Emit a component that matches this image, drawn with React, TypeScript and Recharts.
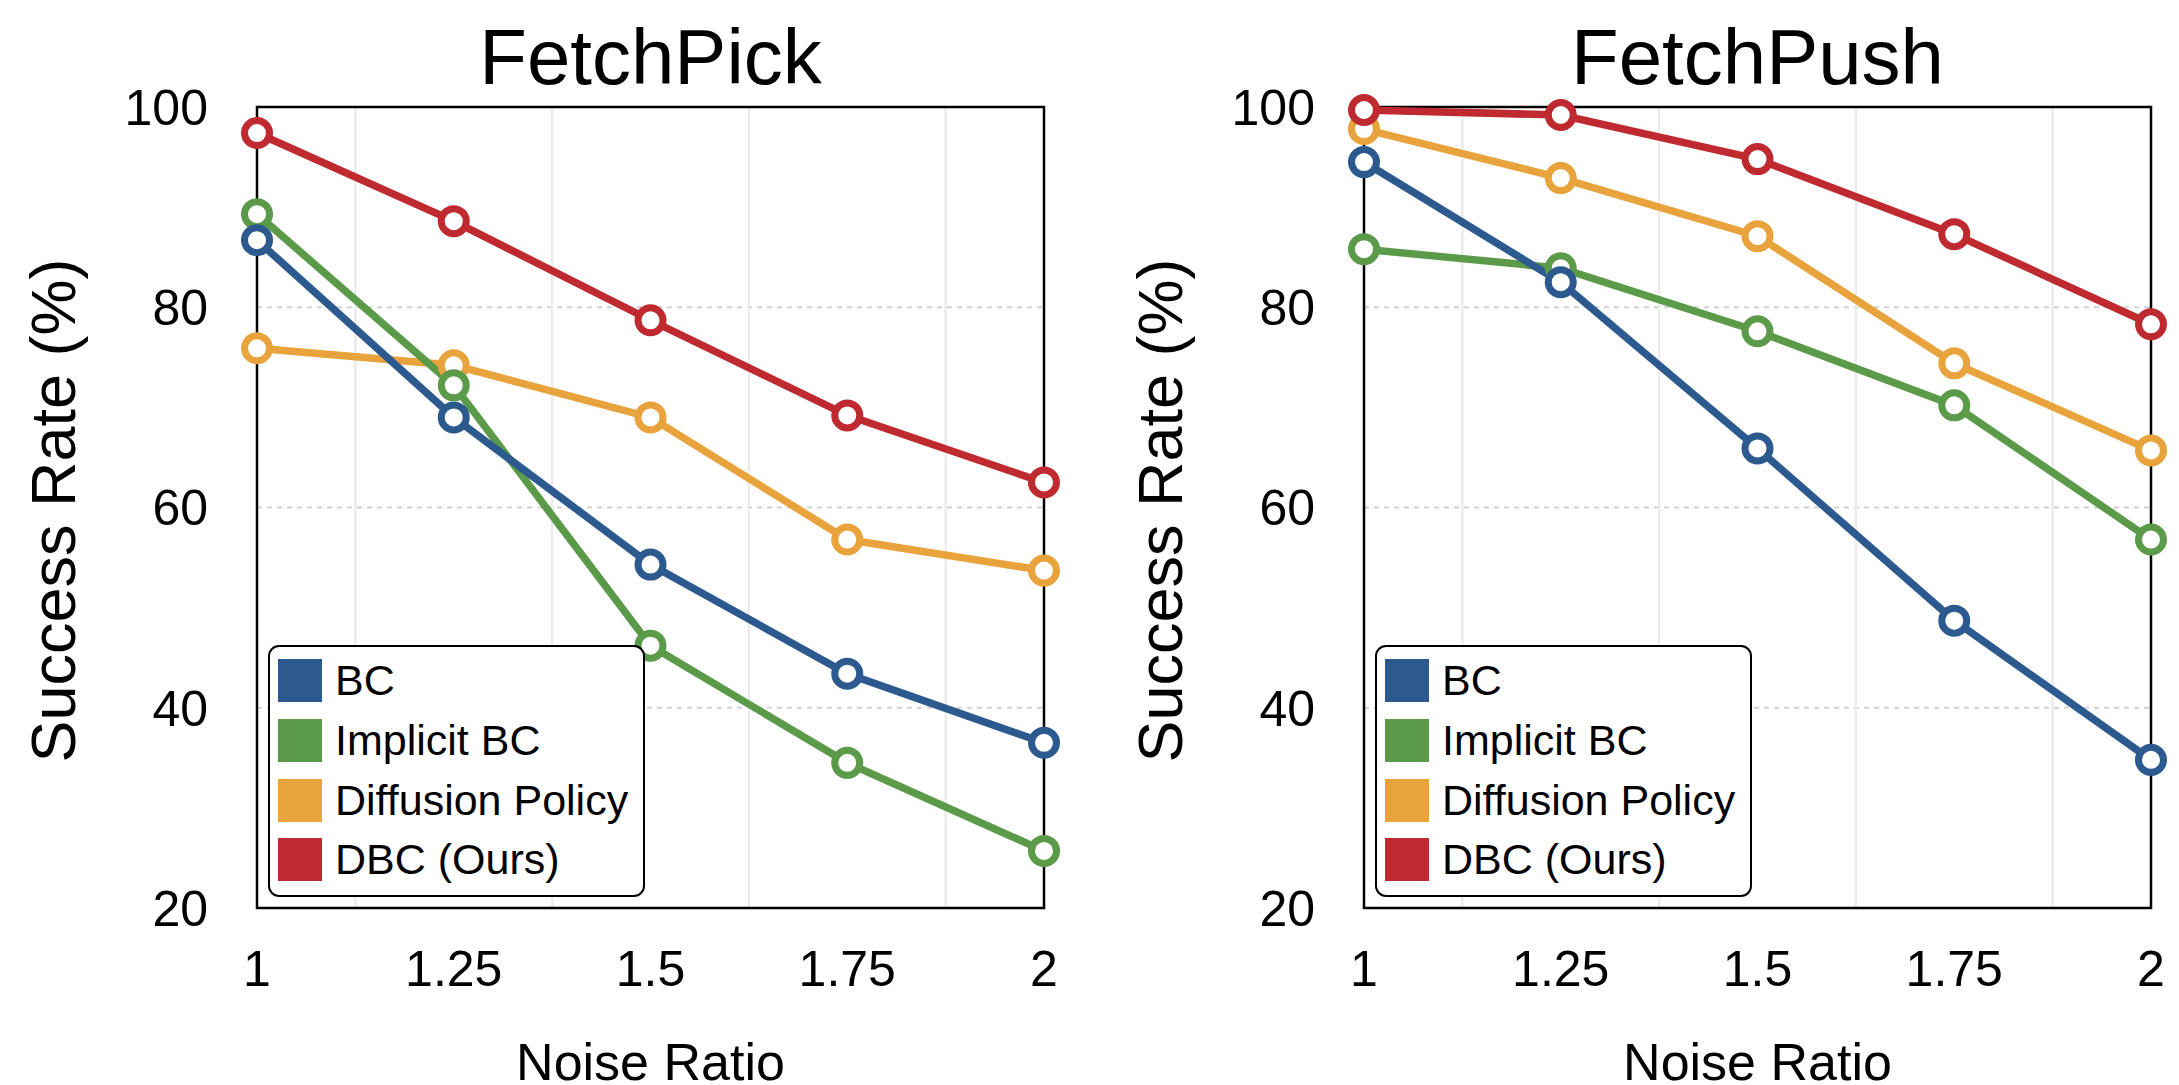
import React from "react";
import {
  CartesianGrid,
  Label,
  Legend,
  Line,
  LineChart,
  ReferenceArea,
  XAxis,
  YAxis,
} from "recharts";

const X_TICKS = [1, 1.25, 1.5, 1.75, 2];
const MINOR_X = [1.125, 1.375, 1.625, 1.875];
const Y_TICKS = [20, 40, 60, 80, 100];

// FetchPick
const pickBC = [86.7, 69.0, 54.3, 43.4, 36.5];
const pickIBC = [89.3, 72.2, 46.2, 34.5, 25.7];
const pickDP = [75.9, 74.2, 69.0, 56.8, 53.7];
const pickDBC = [97.4, 88.6, 78.7, 69.2, 62.5];

// FetchPush
const pushBC = [94.5, 82.5, 65.9, 48.7, 34.8];
const pushIBC = [85.8, 83.9, 77.6, 70.2, 56.8];
const pushDP = [97.8, 92.9, 87.1, 74.4, 65.7];
const pushDBC = [99.7, 99.2, 94.8, 87.3, 78.3];

// legend order
const SERIES = [
  { key: "bc", name: "BC", color: "#2c5a8e" },
  { key: "ibc", name: "Implicit BC", color: "#5b9a48" },
  { key: "dp", name: "Diffusion Policy", color: "#e9a33c" },
  { key: "dbc", name: "DBC (Ours)", color: "#be2a2f" },
];
// drawing order (later on top)
const DRAW_ORDER = ["dp", "ibc", "bc", "dbc"];

const FONT = '"Liberation Sans", Arial, Helvetica, sans-serif';

const buildRows = (bc: number[], ibc: number[], dp: number[], dbc: number[]) =>
  X_TICKS.map((x, i) => ({ x, bc: bc[i], ibc: ibc[i], dp: dp[i], dbc: dbc[i] }));

const pickData = buildRows(pickBC, pickIBC, pickDP, pickDBC);
const pushData = buildRows(pushBC, pushIBC, pushDP, pushDBC);

function LegendBox() {
  return (
    <div
      style={{
        width: 377,
        height: 252,
        boxSizing: "border-box",
        border: "2.5px solid #000",
        borderRadius: 11,
        background: "#fff",
        paddingTop: 4,
        paddingLeft: 8,
        fontFamily: FONT,
      }}
    >
      {SERIES.map((s) => (
        <div key={s.key} style={{ display: "flex", alignItems: "center", height: 59.7 }}>
          <div style={{ width: 44, height: 43, background: s.color }} />
          <span style={{ marginLeft: 13, fontSize: 43, color: "#000", lineHeight: "43px" }}>
            {s.name}
          </span>
        </div>
      ))}
    </div>
  );
}

function Panel({
  title,
  data,
  left,
  width,
  plotLeft,
  marginRight,
}: {
  title: string;
  data: Record<string, number>[];
  left: number;
  width: number;
  plotLeft: number;
  marginRight: number;
}) {
  const plotRight = width - marginRight;
  return (
    <div style={{ position: "absolute", left, top: 0, width, height: 1085 }}>
      <div
        style={{
          position: "absolute",
          top: 18,
          left: plotLeft,
          width: plotRight - plotLeft,
          textAlign: "center",
          fontSize: 78,
          lineHeight: "78px",
          color: "#000",
          fontFamily: FONT,
        }}
      >
        {title}
      </div>
      <LineChart
        width={width}
        height={1085}
        data={data}
        margin={{ top: 107, right: marginRight, bottom: 0, left: 0 }}
      >
        <CartesianGrid
          vertical={false}
          stroke="#d2d2d2"
          strokeWidth={1.8}
          strokeDasharray="5 5"
        />
        <CartesianGrid
          horizontal={false}
          stroke="#ececec"
          strokeWidth={2.5}
          verticalCoordinatesGenerator={({ xAxis }: any) =>
            MINOR_X.map((v) => {
              const s = xAxis.scale;
              return typeof s === "function" ? s(v) : s.map(v);
            })
          }
        />
        <XAxis
          dataKey="x"
          type="number"
          domain={[1, 2]}
          ticks={X_TICKS}
          axisLine={false}
          tickLine={false}
          tickSize={0}
          tickMargin={42.5}
          height={177}
          tick={{ fontSize: 50, fill: "#000" }}
        >
          <Label
            content={({ viewBox }: any) => (
              <text
                x={viewBox.x + viewBox.width / 2}
                y={viewBox.y + 172}
                textAnchor="middle"
                fontSize={52}
                fill="#000"
              >
                Noise Ratio
              </text>
            )}
          />
        </XAxis>
        <YAxis
          type="number"
          domain={[20, 100]}
          ticks={Y_TICKS}
          axisLine={false}
          tickLine={false}
          tickSize={0}
          tickMargin={49}
          width={plotLeft}
          tick={{ fontSize: 50, fill: "#000" }}
        >
          <Label
            content={({ viewBox }: any) => {
              const x = viewBox.x + viewBox.width - 182;
              const y = viewBox.y + viewBox.height / 2 + 3;
              return (
                <text
                  x={x}
                  y={y}
                  transform={`rotate(-90 ${x} ${y})`}
                  textAnchor="middle"
                  fontSize={63}
                  fill="#000"
                >
                  Success Rate (%)
                </text>
              );
            }}
          />
        </YAxis>
        <ReferenceArea
          x1={1}
          x2={2}
          y1={20}
          y2={100}
          fill="none"
          stroke="#000"
          strokeWidth={2.5}
        />
        {DRAW_ORDER.map((k) => {
          const s = SERIES.find((e) => e.key === k)!;
          return (
            <Line
              key={k}
              type="linear"
              dataKey={k}
              name={s.name}
              stroke={s.color}
              strokeWidth={7.5}
              dot={{ r: 12.5, fill: "#fff", stroke: s.color, strokeWidth: 7 }}
              isAnimationActive={false}
            />
          );
        })}
        <Legend
          layout="vertical"
          align="center"
          verticalAlign="middle"
          content={() => <LegendBox />}
          wrapperStyle={{ left: plotLeft + 11, top: 645, width: "auto", height: "auto" }}
        />
      </LineChart>
    </div>
  );
}

export default function App() {
  return (
    <div
      style={{
        position: "absolute",
        left: 0,
        top: 0,
        width: 2179,
        height: 1085,
        background: "#fff",
        fontFamily: FONT,
      }}
    >
      <Panel title="FetchPick" data={pickData} left={0} width={1090} plotLeft={257} marginRight={46} />
      <Panel title="FetchPush" data={pushData} left={1090} width={1089} plotLeft={274} marginRight={28} />
    </div>
  );
}
